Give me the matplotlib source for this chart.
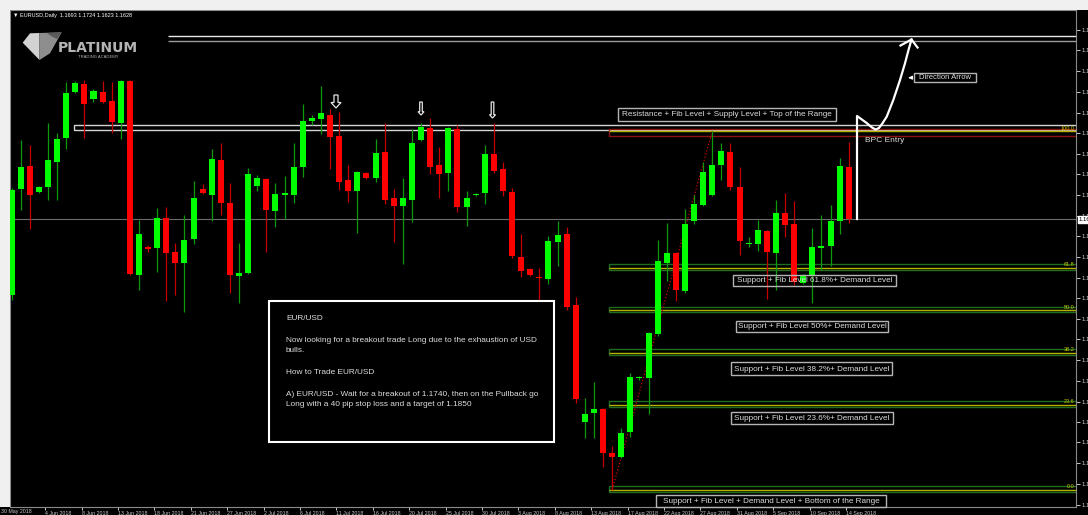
import matplotlib
matplotlib.use('Agg')
import matplotlib.pyplot as plt
import matplotlib.transforms as mtransforms
from matplotlib.patches import Rectangle, Polygon
import numpy as np

# EURUSD daily bars, 30 May 2018 .. 14 Sep 2018 (broker feed with Sunday bars)
opens = [1.1533, 1.1666, 1.1695, 1.1662, 1.1668, 1.1700, 1.1730, 1.1787, 1.1797, 1.1778,
         1.1787, 1.1776, 1.1748, 1.1801, 1.1558, 1.1593, 1.1592, 1.1630, 1.1587, 1.1573,
         1.1603, 1.1666, 1.1658, 1.1702, 1.1648, 1.1557, 1.1561, 1.1670, 1.1678, 1.1638,
         1.1658, 1.1658, 1.1693, 1.1751, 1.1753, 1.1758, 1.1732, 1.1677, 1.1663, 1.1686,
         1.1680, 1.1712, 1.1655, 1.1645, 1.1652, 1.1727, 1.1742, 1.1696, 1.1686, 1.1741,
         1.1643, 1.1658, 1.1661, 1.1710, 1.1691, 1.1662, 1.1581, 1.1566, 1.1556, 1.1553,
         1.1600, 1.1610, 1.1521, 1.1375, 1.1386, 1.1391, 1.1336, 1.1331, 1.1362, 1.1430,
         1.1430, 1.1485, 1.1573, 1.1586, 1.1538, 1.1626, 1.1646, 1.1658, 1.1696, 1.1712,
         1.1668, 1.1597, 1.1597, 1.1613, 1.1586, 1.1636, 1.1622, 1.1548, 1.1557, 1.1592,
         1.1595, 1.1626, 1.1693]
highs = [1.1667, 1.1727, 1.1721, 1.1670, 1.1748, 1.1736, 1.1800, 1.1801, 1.1802, 1.1791,
         1.1801, 1.1800, 1.1802, 1.1802, 1.1627, 1.1596, 1.1642, 1.1643, 1.1598, 1.1633,
         1.1676, 1.1672, 1.1716, 1.1723, 1.1673, 1.1598, 1.1692, 1.1683, 1.1680, 1.1673,
         1.1682, 1.1723, 1.1772, 1.1758, 1.1795, 1.1766, 1.1762, 1.1696, 1.1688, 1.1687,
         1.1728, 1.1748, 1.1666, 1.1680, 1.1741, 1.1748, 1.1755, 1.1718, 1.1743, 1.1746,
         1.1663, 1.1661, 1.1721, 1.1748, 1.1700, 1.1667, 1.1610, 1.1567, 1.1567, 1.1607,
         1.1626, 1.1618, 1.1531, 1.1405, 1.1425, 1.1392, 1.1345, 1.1367, 1.1436, 1.1432,
         1.1487, 1.1602, 1.1623, 1.1587, 1.1641, 1.1658, 1.1700, 1.1738, 1.1723, 1.1723,
         1.1693, 1.1606, 1.1627, 1.1614, 1.1652, 1.1661, 1.1651, 1.1559, 1.1617, 1.1633,
         1.1646, 1.1705, 1.1724]
lows = [1.1527, 1.1640, 1.1616, 1.1661, 1.1652, 1.1652, 1.1716, 1.1786, 1.1730, 1.1775,
        1.1773, 1.1736, 1.1728, 1.1558, 1.1540, 1.1587, 1.1562, 1.1526, 1.1533, 1.1512,
        1.1597, 1.1660, 1.1626, 1.1633, 1.1536, 1.1523, 1.1560, 1.1663, 1.1587, 1.1618,
        1.1628, 1.1648, 1.1681, 1.1746, 1.1735, 1.1691, 1.1665, 1.1650, 1.1611, 1.1678,
        1.1675, 1.1647, 1.1600, 1.1572, 1.1625, 1.1726, 1.1685, 1.1655, 1.1663, 1.1637,
        1.1620, 1.1657, 1.1647, 1.1686, 1.1657, 1.1580, 1.1556, 1.1557, 1.1527, 1.1547,
        1.1570, 1.1515, 1.1398, 1.1355, 1.1355, 1.1318, 1.1290, 1.1330, 1.1356, 1.1427,
        1.1385, 1.1482, 1.1551, 1.1526, 1.1536, 1.1622, 1.1645, 1.1657, 1.1677, 1.1665,
        1.1583, 1.1593, 1.1588, 1.1528, 1.1540, 1.1606, 1.1546, 1.1547, 1.1523, 1.1565,
        1.1570, 1.1610, 1.1623]
closes = [1.1665, 1.1693, 1.1658, 1.1668, 1.1702, 1.1728, 1.1786, 1.1798, 1.1772, 1.1788,
          1.1775, 1.1750, 1.1801, 1.1560, 1.1610, 1.1591, 1.1630, 1.1586, 1.1573, 1.1602,
          1.1655, 1.1661, 1.1703, 1.1648, 1.1558, 1.1561, 1.1685, 1.1680, 1.1640, 1.1660,
          1.1661, 1.1693, 1.1751, 1.1755, 1.1761, 1.1731, 1.1675, 1.1663, 1.1687, 1.1680,
          1.1711, 1.1652, 1.1645, 1.1655, 1.1723, 1.1743, 1.1693, 1.1685, 1.1742, 1.1643,
          1.1655, 1.1660, 1.1710, 1.1688, 1.1663, 1.1582, 1.1563, 1.1558, 1.1555, 1.1601,
          1.1608, 1.1518, 1.1403, 1.1385, 1.1391, 1.1336, 1.1331, 1.1361, 1.1431, 1.1431,
          1.1486, 1.1576, 1.1586, 1.1540, 1.1622, 1.1647, 1.1687, 1.1696, 1.1713, 1.1668,
          1.1601, 1.1598, 1.1615, 1.1587, 1.1636, 1.1621, 1.1550, 1.1558, 1.1593, 1.1595,
          1.1626, 1.1695, 1.1628]

first_date = '30 May 2018'
date_labels = ['4 Jun 2018', '8 Jun 2018', '13 Jun 2018', '18 Jun 2018', '21 Jun 2018',
               '27 Jun 2018', '2 Jul 2018', '6 Jul 2018', '11 Jul 2018', '16 Jul 2018',
               '20 Jul 2018', '25 Jul 2018', '30 Jul 2018', '3 Aug 2018', '8 Aug 2018',
               '13 Aug 2018', '17 Aug 2018', '22 Aug 2018', '27 Aug 2018', '31 Aug 2018',
               '5 Sep 2018', '10 Sep 2018', '14 Sep 2018']
date_bars = [4, 8, 12, 16, 20, 24, 28, 32, 36, 40, 44, 48, 52, 56, 60, 64, 68, 72, 76,
             80, 84, 88, 92]

price_ticks = [1.1865, 1.1839, 1.1813, 1.1787, 1.1761, 1.1736, 1.1710, 1.1684, 1.1658,
               1.1632, 1.1607, 1.1581, 1.1555, 1.1529, 1.1503, 1.1478, 1.1452, 1.1426,
               1.1400, 1.1374, 1.1349, 1.1323, 1.1297, 1.1271]

last_price = 1.1628
target_lines = [1.1857, 1.1851]
resistance_zone = (1.1739, 1.1746)

# fibonacci retracement from the 15 Aug low (bar 66) to the 28 Aug high (bar 77)
fib_labels = ['0.0', '23.6', '38.2', '50.0', '61.8', '100.0']
fib_prices = [1.1290, 1.1396, 1.1461, 1.1514, 1.1567, 1.1738]
fib_from_bar, fib_to_bar = 66, 77

plt.rcParams['font.family'] = ['Liberation Sans', 'DejaVu Sans']

W, H = 1088, 515
fig = plt.figure(figsize=(W / 100, H / 100), dpi=100, facecolor='black')
ax = fig.add_axes([10 / W, 8 / H, 1066 / W, 497 / H], facecolor='black')
ax.set_xlim(-0.176, 116.97)
ax.set_ylim(1.126825, 1.18895)

o = np.array(opens)
h = np.array(highs)
l = np.array(lows)
c = np.array(closes)
x = np.arange(len(o))
up = c >= o

wick_colors = np.where(up, '#0c9a0c', '#c40000')
body_colors = np.where(up, '#00ff00', '#ff0000')
ax.vlines(x, l, h, colors=wick_colors, lw=0.9, zorder=3)
ax.bar(x, np.maximum(np.abs(c - o), 0.00012), bottom=np.minimum(o, c), width=0.66,
       color=body_colors, lw=0, zorder=4)

# last price line
ax.axhline(last_price, color='#6c6c6c', lw=0.8, zorder=2)

# target lines and resistance range
ax.hlines(target_lines[0], 17.2, 120, color='#e8e8e8', lw=1.0, zorder=2)
ax.hlines(target_lines[1], 17.2, 120, color='#9c9c9c', lw=1.0, zorder=2)
ax.add_patch(Rectangle((6.86, resistance_zone[0]), 120, resistance_zone[1] - resistance_zone[0],
                       fill=False, ec='#d4d4d4', lw=1.0, zorder=2))

# fib levels with their zones
for lab, p in zip(fib_labels, fib_prices):
    edge = '#8c1212' if lab == '100.0' else '#1f6e1f'
    lo, hi = (p - 0.0006, p + 0.0003) if lab == '100.0' else (p - 0.00025, p + 0.00044)
    ax.add_patch(Rectangle((65.7, lo), 60, hi - lo, fill=False, ec=edge, lw=1.0, zorder=2))
    ax.hlines(p, 65.7, 120, color='#b4b400', lw=1.0, zorder=2)
    ax.text(116.8, p + 0.00008, lab, ha='right', va='bottom', color='#c8c800',
            fontsize=4, zorder=5)
ax.plot([fib_from_bar, fib_to_bar], [fib_prices[0], fib_prices[-1]], ls=':',
        color='#d00000', lw=0.9, zorder=2)

# axes styling
for s in ax.spines.values():
    s.set_color('#8a8a8a')
    s.set_linewidth(0.8)
ax.yaxis.tick_right()
ax.set_yticks(price_ticks, [f'{p:.4f}' for p in price_ticks])
ax.tick_params(axis='y', colors='#c8c8c8', labelsize=4.3, length=3, pad=1, width=0.7)
ax.set_xticks([b - 0.3 for b in date_bars], date_labels)
for t in ax.get_xticklabels():
    t.set_horizontalalignment('left')
ax.tick_params(axis='x', colors='#c8c8c8', labelsize=3.8, length=2.5, pad=0.5, width=0.7)

blend = mtransforms.blended_transform_factory(ax.transAxes, ax.transData)
ax.text(1.0025, last_price, f'{last_price:.4f}', transform=blend, color='black',
        fontsize=4.3, va='center', ha='left', clip_on=False,
        bbox=dict(fc='white', ec='white', pad=0.8))

# overlay in pixel coordinates for drawn objects and captions
ov = fig.add_axes([0, 0, 1, 1], facecolor='none')
ov.set_xlim(0, W)
ov.set_ylim(H, 0)
ov.axis('off')

ov.add_patch(Rectangle((0, 0), W, 9.5, fc='#f0f0f0', ec='none'))
ov.add_patch(Rectangle((0, 0), 9.5, 507, fc='#f0f0f0', ec='none'))
ov.text(1, 512, first_date, color='#c8c8c8', fontsize=3.8, va='center', ha='left')

ov.text(13, 15.5, '\u25bc EURUSD,Daily  1.1693 1.1724 1.1623 1.1628', color='white',
        fontsize=4, va='center', ha='left')

# logo
ov.add_patch(Polygon([(22.7, 42.7), (30, 33.3), (39.5, 33), (39.5, 60)], fc='#d2d2d2', ec='none'))
ov.add_patch(Polygon([(39.5, 33), (61.7, 32.3), (50, 53.3), (39.5, 60)], fc='#8e8e8e', ec='none'))
ov.add_patch(Polygon([(47, 33), (61.7, 32.3), (57, 39), (51, 36)], fc='#5a5a5a', ec='none'))
ov.text(98, 48, 'PLATINUM', color='#b4b4b4', fontsize=10, fontweight='bold',
        family='DejaVu Sans', ha='center', va='center')
ov.text(98, 57.5, 'TRADING ACADEMY', color='#b4b4b4', fontsize=3, ha='center', va='center')

# lower-high markers
for cx, top, bot, hw, sw in [(336, 95, 108, 10, 4), (421, 102, 115, 6, 2.6), (492.5, 102, 118, 6, 2.6)]:
    hh = hw * 0.55
    ov.add_patch(Polygon([(cx - sw / 2, top), (cx + sw / 2, top), (cx + sw / 2, bot - hh),
                          (cx + hw / 2, bot - hh), (cx, bot), (cx - hw / 2, bot - hh),
                          (cx - sw / 2, bot - hh)], fill=False, ec='#e6e6e6', lw=0.9))


def caption(x0, y0, x1, y1, text, size=5.9):
    ov.add_patch(Rectangle((x0, y0), x1 - x0, y1 - y0, fill=False, ec='#b4b4b4', lw=1.0))
    ov.text((x0 + x1) / 2, (y0 + y1) / 2 + 0.3, text, ha='center', va='center',
            color='#dcdcdc', fontsize=size)


caption(618.3, 108.3, 835.7, 121, 'Resistance + Fib Level + Supply Level + Top of the Range')
caption(733.3, 275, 896, 286, 'Support + Fib Level 61.8%+ Demand Level')
caption(735.7, 320.5, 888.3, 332.3, 'Support + Fib Level 50%+ Demand Level')
caption(730.7, 362.3, 892, 375.3, 'Support + Fib Level 38.2%+ Demand Level')
caption(730.7, 411.7, 892.7, 424, 'Support + Fib Level 23.6%+ Demand Level')
caption(656, 495, 886, 507, 'Support + Fib Level + Demand Level + Bottom of the Range')
caption(914, 72.7, 976, 82.3, 'Direction Arrow', size=5.5)
ov.annotate('', xy=(905.5, 77.7), xytext=(912.5, 77.7),
            arrowprops=dict(arrowstyle='-|>', color='white', lw=0.9, mutation_scale=5))

# breakout / pullback / continuation sketch
px = [857, 857, 866, 872, 875.5, 879, 882, 886.7, 893.3, 900, 905, 908.5, 911.5]
py = [219, 116, 122.5, 127.5, 129.5, 128, 124, 116.7, 100, 80, 63.3, 50, 39.5]
ov.plot(px, py, color='white', lw=1.6, solid_joinstyle='round')
ov.plot([900.5, 911.5, 917.5], [45.5, 39.5, 47.5], color='white', lw=1.6)
ov.text(885, 141, 'BPC Entry', color='#d8d8d8', fontsize=6, ha='center', va='center')

# trade note
ov.add_patch(Rectangle((268.5, 301), 285.5, 141.3, fc='black', ec='white', lw=1.5))
note = [(318.3, 'EUR/USD'),
        (340, 'Now looking for a breakout trade Long due to the exhaustion of USD'),
        (351, 'bulls.'),
        (372.3, 'How to Trade EUR/USD'),
        (394.3, 'A) EUR/USD - Wait for a breakout of 1.1740, then on the Pullback go'),
        (405, 'Long with a 40 pip stop loss and a target of 1.1850')]
for yy, line in note:
    ov.text(286, yy, line, color='#dcdcdc', fontsize=5.95, ha='left', va='center')

fig.savefig('out.png', dpi=100, facecolor='black')
